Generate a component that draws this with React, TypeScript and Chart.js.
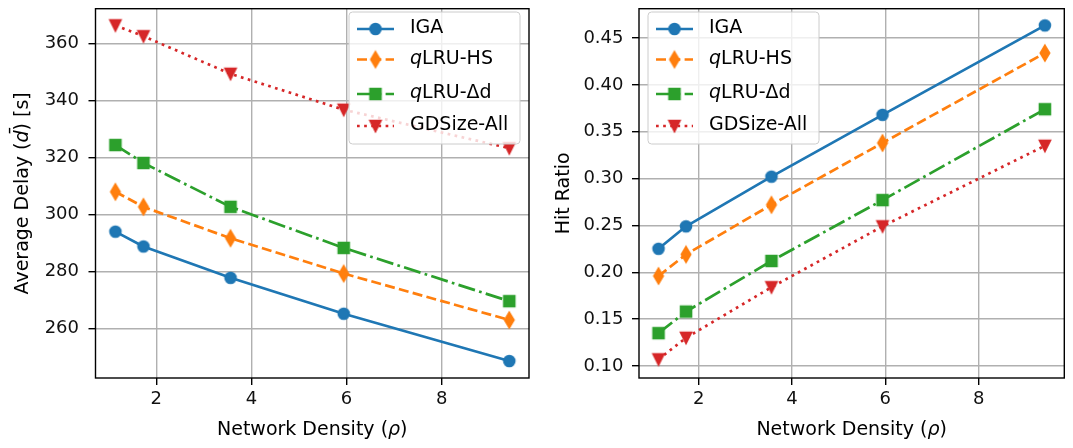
import React, { useEffect, useRef } from 'react';
import { Chart, registerables } from 'chart.js';

Chart.register(...registerables);

// ---------------- data ----------------
const density = [1.14, 1.73, 3.56, 5.94, 9.42];

const delayIGA = [294.0, 288.8, 277.8, 265.2, 248.6];
const delayHS = [308.0, 302.7, 291.7, 279.3, 263.0];
const delayDd = [324.4, 318.1, 302.7, 288.3, 269.6];
const delayGD = [366.4, 362.6, 349.4, 336.8, 323.3];

const hitIGA = [0.225, 0.249, 0.302, 0.368, 0.4635];
const hitHS = [0.196, 0.219, 0.272, 0.338, 0.434];
const hitDd = [0.135, 0.158, 0.212, 0.277, 0.374];
const hitGD = [0.107, 0.130, 0.184, 0.249, 0.335];

const xTicks = [2, 4, 6, 8];
const xTickLabels = ['2', '4', '6', '8'];
const delayTicks = [260, 280, 300, 320, 340, 360];
const delayTickLabels = ['260', '280', '300', '320', '340', '360'];
const hitTicks = [0.1, 0.15, 0.2, 0.25, 0.3, 0.35, 0.4, 0.45];
const hitTickLabels = ['0.10', '0.15', '0.20', '0.25', '0.30', '0.35', '0.40', '0.45'];

// axis ranges (matplotlib auto-limits with 5% margins)
const X_MIN = 0.722;
const X_MAX = 9.835;
const DELAY_MIN = 242.64;
const DELAY_MAX = 372.25;
const HIT_MIN = 0.0871;
const HIT_MAX = 0.4813;

type Part = [string, boolean];
const seriesLabels: Part[][] = [
  [['IGA', false]],
  [['q', true], ['LRU-HS', false]],
  [['q', true], ['LRU-\u0394d', false]],
  [['GDSize-All', false]],
];
const seriesColors = ['#1f77b4', '#ff7f0e', '#2ca02c', '#d62728'];
const seriesDash = [[], [10, 4.3], [17.3, 4.3, 2.7, 4.3], [2.7, 4.45]];
const seriesMarker = ['o', 'd', 's', 'v'];

const FONT = '"DejaVu Sans", "Liberation Sans", sans-serif';
const FS = 18; // tick labels
const FS_LABEL = 19; // axis titles and legend

// ---------------- helpers ----------------
function makeMarker(kind: string, color: string): HTMLCanvasElement {
  const c = document.createElement('canvas');
  c.width = 24;
  c.height = 24;
  const g = c.getContext('2d')!;
  g.translate(12, 12);
  g.fillStyle = color;
  g.strokeStyle = color;
  g.lineWidth = 1.8;
  g.lineJoin = 'miter';
  g.beginPath();
  if (kind === 'o') {
    g.arc(0, 0, 5.4, 0, Math.PI * 2);
  } else if (kind === 'd') {
    g.moveTo(0, -7.64);
    g.lineTo(4.58, 0);
    g.lineTo(0, 7.64);
    g.lineTo(-4.58, 0);
    g.closePath();
  } else if (kind === 's') {
    g.rect(-5.4, -5.4, 10.8, 10.8);
  } else {
    g.moveTo(-5.4, -5.4);
    g.lineTo(5.4, -5.4);
    g.lineTo(0, 5.4);
    g.closePath();
  }
  g.fill();
  g.stroke();
  return c;
}

function drawParts(ctx: CanvasRenderingContext2D, parts: Part[], x: number, y: number, align: 'left' | 'center') {
  const fonts = parts.map((p) => (p[1] ? 'italic ' : '') + FS_LABEL + 'px ' + FONT);
  const widths = parts.map((p, i) => {
    ctx.font = fonts[i];
    return ctx.measureText(p[0]).width;
  });
  const total = widths.reduce((a, b) => a + b, 0);
  let cx = align === 'center' ? x - total / 2 : x;
  ctx.textAlign = 'left';
  parts.forEach((p, i) => {
    ctx.font = fonts[i];
    ctx.fillText(p[0], cx, y);
    cx += widths[i];
  });
}

interface PanelOpts {
  values: number[][];
  yTicks: number[];
  yTickLabels: string[];
  yMin: number;
  yMax: number;
  yTitle: Part[];
  yTitleX: number;
  yAxisWidth: number;
  padRight: number;
  yTickPad: number;
  legendX: number;
}

const LEG_TOP = 12;
const LEG_W = 171;
const LEG_H = 132;
const LEG_ROWS = [17, 47.5, 82, 114];

function makeConfig(o: PanelOpts): any {
  const markers = seriesMarker.map((m, i) => makeMarker(m, seriesColors[i]));
  const datasets = seriesLabels.map((lab, i) => ({
    label: lab.map((p) => p[0]).join(''),
    data: density.map((x, j) => ({ x, y: o.values[i][j] })),
    borderColor: seriesColors[i],
    backgroundColor: seriesColors[i],
    borderWidth: 2.7,
    borderDash: seriesDash[i],
    borderCapStyle: 'butt',
    borderJoinStyle: 'round',
    pointStyle: markers[i],
    pointRadius: 6,
    pointHoverRadius: 6,
    tension: 0,
    fill: false,
    order: seriesLabels.length - i,
  }));

  const overlay = {
    id: 'overlay',
    afterDatasetsDraw(chart: any) {
      const ctx: CanvasRenderingContext2D = chart.ctx;
      const a = chart.chartArea;
      ctx.save();
      // frame
      ctx.strokeStyle = '#000';
      ctx.lineWidth = 1.4;
      ctx.setLineDash([]);
      ctx.strokeRect(a.left, a.top, a.right - a.left, a.bottom - a.top);

      // legend
      const lx = o.legendX;
      const ly = LEG_TOP;
      ctx.beginPath();
      (ctx as any).roundRect(lx, ly, LEG_W, LEG_H, 3.6);
      ctx.fillStyle = 'rgba(255,255,255,0.8)';
      ctx.fill();
      ctx.strokeStyle = '#cccccc';
      ctx.lineWidth = 1;
      ctx.stroke();
      seriesLabels.forEach((lab, i) => {
        const y = ly + LEG_ROWS[i];
        ctx.beginPath();
        ctx.strokeStyle = seriesColors[i];
        ctx.lineWidth = 2.7;
        ctx.lineCap = 'butt';
        ctx.setLineDash(seriesDash[i]);
        ctx.moveTo(lx + 8, y);
        ctx.lineTo(lx + 45, y);
        ctx.stroke();
        ctx.setLineDash([]);
        const m = markers[i];
        ctx.drawImage(m, lx + 26.5 - m.width / 2, y - m.height / 2);
        ctx.fillStyle = '#000';
        ctx.textBaseline = 'middle';
        drawParts(ctx, lab, lx + 61, y - 0.5, 'left');
      });

      // axis titles
      ctx.fillStyle = '#000';
      ctx.textBaseline = 'alphabetic';
      drawParts(ctx, [['Network Density (', false], ['\u03c1', true], [')', false]], (a.left + a.right) / 2, 435, 'center');
      ctx.translate(o.yTitleX, (a.top + a.bottom) / 2);
      ctx.rotate(-Math.PI / 2);
      drawParts(ctx, o.yTitle, 0, 0, 'center');
      ctx.restore();
    },
  };

  const gridOpts = {
    color: '#b0b0b0',
    lineWidth: 1.4,
    drawTicks: true,
    tickLength: 7,
    tickColor: '#000',
    tickWidth: 1.4,
  };

  return {
    type: 'line',
    data: { datasets },
    plugins: [overlay],
    options: {
      animation: false,
      responsive: false,
      maintainAspectRatio: false,
      events: [],
      layout: { padding: { left: 0, top: 2.5, right: o.padRight, bottom: 0 } },
      plugins: { legend: { display: false }, tooltip: { enabled: false }, title: { display: false } },
      scales: {
        x: {
          type: 'linear',
          min: X_MIN,
          max: X_MAX,
          afterBuildTicks: (s: any) => {
            s.ticks = xTicks.map((v) => ({ value: v }));
          },
          afterFit: (s: any) => {
            s.height = 70;
            s.paddingLeft = 0;
            s.paddingRight = 0;
            s.paddingTop = 0;
            s.paddingBottom = 0;
          },
          grid: gridOpts,
          border: { display: false },
          ticks: {
            font: { family: FONT, size: FS },
            color: '#111',
            padding: 4,
            maxRotation: 0,
            autoSkip: false,
            callback: (_v: any, i: number) => xTickLabels[i],
          },
        },
        y: {
          type: 'linear',
          min: o.yMin,
          max: o.yMax,
          afterBuildTicks: (s: any) => {
            s.ticks = o.yTicks.map((v) => ({ value: v }));
          },
          afterFit: (s: any) => {
            s.width = o.yAxisWidth;
            s.paddingLeft = 0;
            s.paddingRight = 0;
            s.paddingTop = 0;
            s.paddingBottom = 0;
          },
          grid: gridOpts,
          border: { display: false },
          ticks: {
            font: { family: FONT, size: FS },
            color: '#111',
            padding: o.yTickPad,
            autoSkip: false,
            callback: (_v: any, i: number) => o.yTickLabels[i],
          },
        },
      },
    },
  };
}

export default function App() {
  const leftRef = useRef<HTMLCanvasElement>(null);
  const rightRef = useRef<HTMLCanvasElement>(null);

  useEffect(() => {
    const left = new Chart(
      leftRef.current!,
      makeConfig({
        values: [delayIGA, delayHS, delayDd, delayGD],
        yTicks: delayTicks,
        yTickLabels: delayTickLabels,
        yMin: DELAY_MIN,
        yMax: DELAY_MAX,
        yTitle: [['Average Delay (', false], ['d\u0304', true], [') [s]', false]],
        yTitleX: 27.5,
        yAxisWidth: 95.5,
        padRight: 11,
        yTickPad: 9.5,
        legendX: 349,
      })
    );
    const right = new Chart(
      rightRef.current!,
      makeConfig({
        values: [hitIGA, hitHS, hitDd, hitGD],
        yTicks: hitTicks,
        yTickLabels: hitTickLabels,
        yMin: HIT_MIN,
        yMax: HIT_MAX,
        yTitle: [['Hit Ratio', false]],
        yTitleX: 29.3,
        yAxisWidth: 99,
        padRight: 0.5,
        yTickPad: 8.5,
        legendX: 108,
      })
    );
    return () => {
      left.destroy();
      right.destroy();
    };
  }, []);

  return (
    <div style={{ position: 'absolute', left: 0, top: 0, width: 1073, height: 448, background: '#fff' }}>
      <canvas
        ref={leftRef}
        width={540}
        height={448}
        style={{ position: 'absolute', left: 0, top: 0, width: 540, height: 448 }}
      />
      <canvas
        ref={rightRef}
        width={533}
        height={448}
        style={{ position: 'absolute', left: 540, top: 0, width: 533, height: 448 }}
      />
    </div>
  );
}
